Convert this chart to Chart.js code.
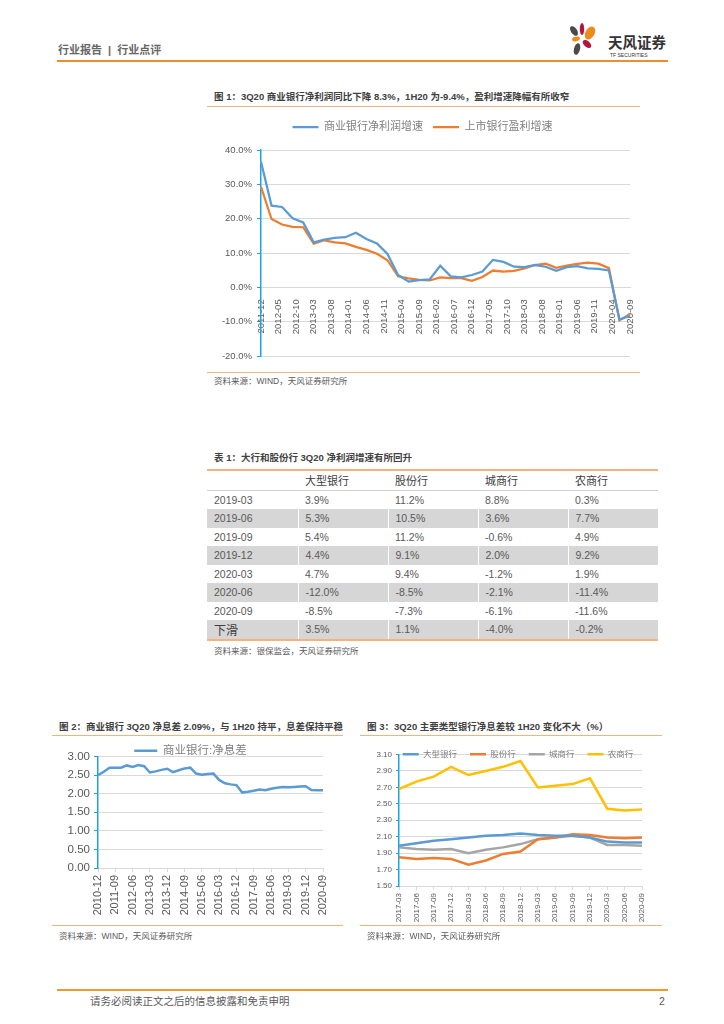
<!DOCTYPE html>
<html>
<head>
<meta charset="utf-8">
<script src="https://cdn.jsdelivr.net/npm/chart.js@4.4.0/dist/chart.umd.min.js"></script>
<style>
  body { margin: 0; width: 724px; height: 1024px; position: relative; overflow: hidden; background: #fff;
    font-family: "Liberation Sans", "Noto Sans CJK SC", sans-serif; color: #595959; }
  .abs { position: absolute; }
  .rule { position: absolute; height: 0; border-top: 1.5px solid #F5B27C; }
  .title { position: absolute; font-size: 9.5px; font-weight: bold; color: #404040; white-space: nowrap; line-height: 12px; }
  .src { position: absolute; font-size: 8.5px; color: #595959; white-space: nowrap; line-height: 11px; }
  canvas { position: absolute; }
  table { position: absolute; left: 207px; top: 469px; width: 451px; border-collapse: collapse;
    border-top: 2px solid #F5B27C; border-bottom: 2px solid #F5B27C; table-layout: fixed; }
  td, th { height: 18.5px; padding: 0 0 0 7px; font-size: 10.5px; text-align: left; font-weight: normal; color: #595959; white-space: nowrap; }
  th { color: #404040; font-size: 11px; border-bottom: 1px solid #D0D0D0; }
  tr.g td { background: #D6D6D6; border-left: 1px solid #fff; }
  tr.g td:first-child { border-left: none; }
  td.big { font-size: 12px; color: #404040; }
</style>
</head>
<body>

<div class="abs" style="left:58px;top:43px;font-size:11px;font-weight:bold;color:#666;line-height:14px;">行业报告 &nbsp;|&nbsp; 行业点评</div>
<svg class="abs" style="left:565px;top:20px" width="105" height="42" viewBox="0 0 105 42">
  <ellipse cx="9" cy="11" rx="3" ry="5.5" transform="rotate(-35 9 11)" fill="#4a4a4a"/>
  <ellipse cx="17" cy="9" rx="2.2" ry="6" fill="#b5123e"/>
  <ellipse cx="25" cy="13" rx="4.5" ry="7" transform="rotate(30 25 13)" fill="#ee8a1b"/>
  <ellipse cx="11" cy="19" rx="4" ry="2.2" transform="rotate(-15 11 19)" fill="#ee8a1b"/>
  <ellipse cx="22" cy="24" rx="5" ry="3" transform="rotate(40 22 24)" fill="#b5123e"/>
  <ellipse cx="12" cy="29" rx="3" ry="6" transform="rotate(15 12 29)" fill="#4a4a4a"/>
  <text x="43" y="28" font-size="14.5" font-weight="bold" fill="#333" font-family="Noto Sans CJK SC">天风证券</text>
  <text x="45" y="37" font-size="5" fill="#333" font-family="Liberation Sans">TF SECURITIES</text>
</svg>
<div class="abs" style="left:57px;top:60px;width:611px;height:0;border-top:2px solid #EE8C2E;"></div>

<!-- 图 1 -->
<div class="title" style="left:214px;top:91px;">图 1：3Q20 商业银行净利润同比下降 8.3%，1H20 为-9.4%，盈利增速降幅有所收窄</div>
<div class="rule" style="left:207px;top:106px;width:433px;"></div>
<canvas id="c1" width="440" height="251" style="left:207px;top:119px;"></canvas>
<div class="rule" style="left:207px;top:372px;width:433px;"></div>
<div class="src" style="left:214px;top:376px;">资料来源：WIND，天风证券研究所</div>

<!-- 表 1 -->
<div class="title" style="left:214px;top:452px;">表 1：大行和股份行 3Q20 净利润增速有所回升</div>
<table id="t1"></table>
<div class="src" style="left:214px;top:646px;">资料来源：银保监会，天风证券研究所</div>

<!-- 图 2 -->
<div class="title" style="left:59px;top:721px;">图 2：商业银行 3Q20 净息差 2.09%，与 1H20 持平，息差保持平稳</div>
<div class="rule" style="left:52px;top:735px;width:291px;"></div>
<canvas id="c2" width="290" height="187" style="left:52px;top:731px;"></canvas>
<div class="rule" style="left:52px;top:925px;width:291px;"></div>
<div class="src" style="left:59px;top:931px;">资料来源：WIND，天风证券研究所</div>

<!-- 图 3 -->
<div class="title" style="left:367px;top:721px;">图 3：3Q20 主要类型银行净息差较 1H20 变化不大（%）</div>
<div class="rule" style="left:360px;top:735px;width:302px;"></div>
<canvas id="c3" width="300" height="203" style="left:360px;top:723px;"></canvas>
<div class="rule" style="left:360px;top:925px;width:302px;"></div>
<div class="src" style="left:367px;top:931px;">资料来源：WIND，天风证券研究所</div>

<div class="abs" style="left:57px;top:989px;width:611px;height:0;border-top:2px solid #EE9A2E;"></div>
<div class="abs" style="left:90px;top:994px;font-size:10.5px;color:#595959;line-height:14px;">请务必阅读正文之后的信息披露和免责申明</div>
<div class="abs" style="left:659px;top:994px;font-size:10.5px;color:#595959;line-height:14px;">2</div>

<script>
// ---- 图1 数据：季度，2011-12 ~ 2020-09 ----
const profitQuarters = ['2011-12',
  '2012-03','2012-06','2012-09','2012-12','2013-03','2013-06','2013-09','2013-12',
  '2014-03','2014-06','2014-09','2014-12','2015-03','2015-06','2015-09','2015-12',
  '2016-03','2016-06','2016-09','2016-12','2017-03','2017-06','2017-09','2017-12',
  '2018-03','2018-06','2018-09','2018-12','2019-03','2019-06','2019-09','2019-12',
  '2020-03','2020-06','2020-09'];
const bankProfitGrowth = [36.6, 23.8, 23.4, 20.1, 18.9, 13.1, 13.9, 14.4, 14.6, 15.9, 14.1, 12.8,
  9.7, 3.6, 1.7, 2.1, 2.3, 6.3, 3.2, 2.9, 3.6, 4.6, 8.0, 7.4, 6.0, 5.9, 6.5, 6.0, 4.8, 5.9, 6.2, 5.5,
  5.4, 4.9, -9.4, -8.3];
const listedProfitGrowth = [29.3, 19.9, 18.3, 17.6, 17.5, 12.7, 13.7, 13.1, 12.8, 11.8, 10.9, 9.8,
  7.9, 3.2, 2.6, 2.2, 2.0, 2.9, 2.7, 2.7, 1.9, 3.0, 4.9, 4.6, 4.8, 5.5, 6.5, 6.9, 5.7, 6.3, 6.8, 7.2,
  6.9, 5.6, -9.6, -7.8];

// ---- 表1 ----
const tableHeads = ['', '大型银行', '股份行', '城商行', '农商行'];
const tableRows = ['2019-03', '2019-06', '2019-09', '2019-12', '2020-03', '2020-06', '2020-09', '下滑'];
const bigBanks = ['3.9%', '5.3%', '5.4%', '4.4%', '4.7%', '-12.0%', '-8.5%', '3.5%'];
const jointBanks = ['11.2%', '10.5%', '11.2%', '9.1%', '9.4%', '-8.5%', '-7.3%', '1.1%'];
const cityBanks = ['8.8%', '3.6%', '-0.6%', '2.0%', '-1.2%', '-2.1%', '-6.1%', '-4.0%'];
const ruralBanks = ['0.3%', '7.7%', '4.9%', '9.2%', '1.9%', '-11.4%', '-11.6%', '-0.2%'];

// ---- 图2 数据：商业银行净息差，2010-12 ~ 2020-09 ----
const nimValues = [2.50, 2.59, 2.70, 2.70, 2.70, 2.76, 2.72, 2.77, 2.74, 2.57, 2.60, 2.64, 2.67,
  2.58, 2.63, 2.68, 2.70, 2.54, 2.51, 2.53, 2.54, 2.37, 2.28, 2.25, 2.23, 2.03, 2.05, 2.08, 2.11,
  2.09, 2.13, 2.16, 2.18, 2.17, 2.18, 2.19, 2.20, 2.10, 2.09, 2.09];

// ---- 图3 数据：各类银行净息差 ----
const nimQuarters = ['2017-03', '2017-06', '2017-09', '2017-12', '2018-03', '2018-06', '2018-09',
  '2018-12', '2019-03', '2019-06', '2019-09', '2019-12', '2020-03', '2020-06', '2020-09'];
const nimBig = [1.99, 2.02, 2.05, 2.07, 2.09, 2.11, 2.12, 2.14, 2.12, 2.11, 2.11, 2.09, 2.04, 2.03, 2.03];
const nimJoint = [1.85, 1.83, 1.84, 1.83, 1.76, 1.81, 1.89, 1.92, 2.07, 2.09, 2.13, 2.12, 2.09, 2.08, 2.09];
const nimCity = [1.97, 1.95, 1.94, 1.95, 1.90, 1.94, 1.97, 2.01, 2.07, 2.09, 2.11, 2.09, 2.00, 2.00, 1.99];
const nimRural = [2.68, 2.77, 2.83, 2.95, 2.85, 2.90, 2.95, 3.02, 2.70, 2.72, 2.74, 2.81, 2.44, 2.42, 2.43];

const BLUE = '#5B9BD5', ORANGE = '#ED7D31', GREY = '#A5A5A5', YELLOW = '#FFC000';
const AXIS_BLUE = '#1CA3EC', GRID = '#D9D9D9';

Chart.defaults.font.family = '"Liberation Sans", "Noto Sans CJK SC", sans-serif';
Chart.defaults.color = '#595959';
Chart.defaults.animation = false;

// build month list between two yyyy-mm labels
function monthRange(from, to) {
  let [y, m] = from.split('-').map(Number);
  const out = [];
  while (true) {
    const lbl = y + '-' + String(m).padStart(2, '0');
    out.push(lbl);
    if (lbl === to) break;
    m++;
    if (m > 12) { m = 1; y++; }
  }
  return out;
}

function quarterRange(from, count) {
  let [y, m] = from.split('-').map(Number);
  const out = [];
  for (let i = 0; i < count; i++) {
    out.push(y + '-' + String(m).padStart(2, '0'));
    m += 3;
    if (m > 12) { m -= 12; y++; }
  }
  return out;
}

// move the legend after layout so it can sit where the reference has it
const legendNudge = {
  id: 'legendNudge',
  afterLayout(chart, args, opts) {
    const lg = chart.legend;
    if (!lg) return;
    const dx = opts.dx || 0, dy = opts.dy || 0;
    lg.left += dx; lg.right += dx;
    lg.top += dy; lg.bottom += dy;
  }
};

function fixWidth(w) { return (scale) => { scale.width = w; }; }
function fixHeight(h) { return (scale) => { scale.height = h; }; }

// ---------- 图1 ----------
const months1 = monthRange(profitQuarters[0], profitQuarters[profitQuarters.length - 1]);
function toMonthly(values) {
  return months1.map(lbl => {
    const i = profitQuarters.indexOf(lbl);
    return i >= 0 ? values[i] : null;
  });
}

new Chart(document.getElementById('c1'), {
  type: 'line',
  data: {
    labels: months1,
    datasets: [
      { label: '商业银行净利润增速', data: toMonthly(bankProfitGrowth), borderColor: BLUE, backgroundColor: BLUE,
        borderWidth: 2.25, pointRadius: 0, spanGaps: true, tension: 0 },
      { label: '上市银行盈利增速', data: toMonthly(listedProfitGrowth), borderColor: ORANGE, backgroundColor: ORANGE,
        borderWidth: 2.25, pointRadius: 0, spanGaps: true, tension: 0 }
    ]
  },
  options: {
    responsive: false,
    layout: { padding: { left: 0, right: 17, top: 0, bottom: 14 } },
    plugins: {
      legend: {
        labels: { usePointStyle: true, pointStyle: 'line', pointStyleWidth: 26, padding: 10,
          font: { size: 11 }, color: '#7f7f7f' }
      },
      legendNudge: { dx: 4, dy: -7.5 },
      tooltip: { enabled: false }
    },
    scales: {
      x: {
        position: { y: 0 },
        grid: { display: false },
        border: { color: GRID },
        ticks: {
          autoSkip: false, minRotation: 90, maxRotation: 90, padding: 4,
          font: { size: 9.5 },
          callback: function (v, i) { return i % 5 === 0 ? this.getLabelForValue(v) : ''; }
        }
      },
      y: {
        min: -20, max: 40,
        afterFit: fixWidth(54),
        grid: { color: GRID, tickColor: AXIS_BLUE, tickLength: 4 },
        border: { color: AXIS_BLUE, width: 1.5 },
        ticks: { stepSize: 10, padding: 5, font: { size: 9.5 }, callback: v => v.toFixed(1) + '%' }
      }
    }
  },
  plugins: [legendNudge]
});

// ---------- 表1 ----------
(function () {
  const t = document.getElementById('t1');
  let html = '<colgroup><col style="width:91px"><col style="width:90px"><col style="width:90px"><col style="width:90px"><col style="width:90px"></colgroup>';
  html += '<tr>' + tableHeads.map(h => '<th>' + h + '</th>').join('') + '</tr>';
  tableRows.forEach((r, i) => {
    const cls = i % 2 === 1 ? ' class="g"' : '';
    const first = r === '下滑' ? '<td class="big">' + r + '</td>' : '<td>' + r + '</td>';
    html += '<tr' + cls + '>' + first + '<td>' + bigBanks[i] + '</td><td>' + jointBanks[i] +
      '</td><td>' + cityBanks[i] + '</td><td>' + ruralBanks[i] + '</td></tr>';
  });
  t.innerHTML = html;
})();

// ---------- 图2 ----------
const nimLabels = quarterRange('2010-12', nimValues.length);
new Chart(document.getElementById('c2'), {
  type: 'line',
  data: {
    labels: nimLabels,
    datasets: [{ label: '商业银行:净息差', data: nimValues, borderColor: BLUE, backgroundColor: BLUE,
      borderWidth: 2.5, pointRadius: 0, tension: 0 }]
  },
  options: {
    responsive: false,
    layout: { padding: { left: 0, right: 19, top: 0, bottom: 0 } },
    plugins: {
      legend: {
        labels: { usePointStyle: true, pointStyle: 'line', pointStyleWidth: 23, padding: 4,
          font: { size: 11.5 }, color: '#7f7f7f' }
      },
      legendNudge: { dx: 3, dy: 10 },
      tooltip: { enabled: false }
    },
    scales: {
      x: {
        offset: false,
        afterFit: fixHeight(50),
        grid: { drawOnChartArea: false, tickLength: 4, tickColor: (c) => c.index % 3 === 0 ? GRID : 'rgba(0,0,0,0)' },
        border: { color: GRID },
        ticks: {
          autoSkip: false, minRotation: 90, maxRotation: 90, padding: 3,
          font: { size: 11 },
          callback: function (v, i) { return i % 3 === 0 ? this.getLabelForValue(v) : ''; }
        }
      },
      y: {
        min: 0, max: 3,
        afterFit: fixWidth(46),
        grid: { color: GRID, tickColor: AXIS_BLUE, tickLength: 4 },
        border: { color: AXIS_BLUE, width: 1.5 },
        ticks: { stepSize: 0.5, padding: 4, font: { size: 11.5 }, callback: v => v.toFixed(2) }
      }
    }
  },
  plugins: [legendNudge]
});

// ---------- 图3 ----------
new Chart(document.getElementById('c3'), {
  type: 'line',
  data: {
    labels: nimQuarters,
    datasets: [
      { label: '大型银行', data: nimBig, borderColor: BLUE, backgroundColor: BLUE, borderWidth: 2.5, pointRadius: 0, tension: 0 },
      { label: '股份行', data: nimJoint, borderColor: ORANGE, backgroundColor: ORANGE, borderWidth: 2.5, pointRadius: 0, tension: 0 },
      { label: '城商行', data: nimCity, borderColor: GREY, backgroundColor: GREY, borderWidth: 2.5, pointRadius: 0, tension: 0 },
      { label: '农商行', data: nimRural, borderColor: YELLOW, backgroundColor: YELLOW, borderWidth: 2.5, pointRadius: 0, tension: 0 }
    ]
  },
  options: {
    responsive: false,
    layout: { padding: { left: 0, right: 18, top: 0, bottom: 0 } },
    plugins: {
      legend: {
        labels: { usePointStyle: true, pointStyle: 'line', pointStyleWidth: 16, padding: 13,
          font: { size: 8.5 }, color: '#7f7f7f' }
      },
      legendNudge: { dx: 17, dy: 14 },
      tooltip: { enabled: false }
    },
    scales: {
      x: {
        offset: false,
        afterFit: fixHeight(40),
        grid: { drawOnChartArea: false, tickLength: 4, tickColor: GRID },
        border: { color: GRID },
        ticks: { autoSkip: false, minRotation: 90, maxRotation: 90, padding: 3, font: { size: 8 } }
      },
      y: {
        min: 1.5, max: 3.1,
        afterFit: fixWidth(39),
        grid: { color: GRID, tickColor: AXIS_BLUE, tickLength: 3 },
        border: { color: AXIS_BLUE, width: 1.5 },
        ticks: { stepSize: 0.2, padding: 4, font: { size: 8 }, callback: v => v.toFixed(2) }
      }
    }
  },
  plugins: [legendNudge]
});
</script>
</body>
</html>
